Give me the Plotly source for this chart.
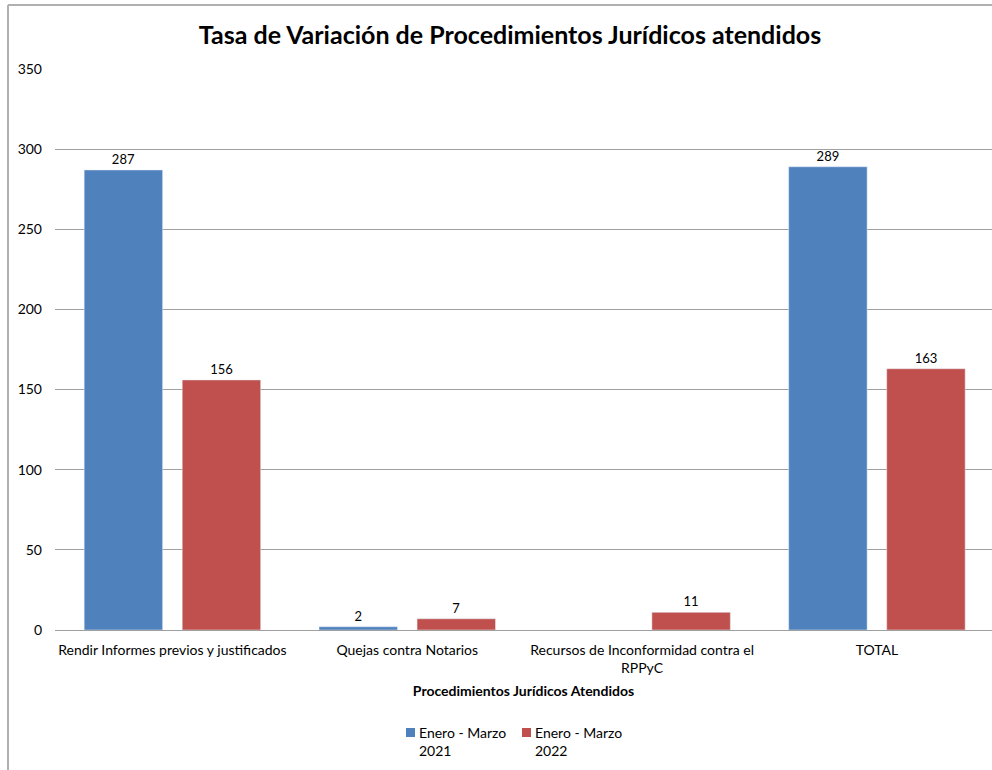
import plotly.graph_objects as go

categories = ["Rendir Informes previos y justificados", "Quejas contra Notarios",
              "Recursos de Inconformidad contra el<br>RPPyC", "TOTAL"]
serie_2021 = [287, 2, None, 289]
serie_2022 = [156, 7, 11, 163]
series_names = ["Enero - Marzo<br>2021", "Enero - Marzo<br>2022"]
series_colors = ["#4F81BD", "#C0504D"]
y_ticks = [0, 50, 100, 150, 200, 250, 300, 350]

FONT = "Lato, 'Open Sans', sans-serif"
W, H = 992, 770
L, R, T, B = 55, 0, 69, 140
pw, ph = W - L - R, H - T - B

def px_x(x):
    return (x - L) / pw

def px_y(y):
    return (H - B - y) / ph

fig = go.Figure()
for vals, name, col in zip([serie_2021, serie_2022], series_names, series_colors):
    fig.add_bar(x=categories, y=vals, name=name, marker_color=col,
                text=vals, textposition="outside", cliponaxis=False,
                textfont=dict(size=13, color="#000000"), showlegend=False)

shapes = [
    dict(type="line", xref="paper", yref="paper", x0=px_x(8), x1=px_x(1000),
         y0=px_y(5), y1=px_y(5), line=dict(color="#b0b0b0", width=2)),
    dict(type="line", xref="paper", yref="paper", x0=px_x(8), x1=px_x(8),
         y0=px_y(5), y1=px_y(780), line=dict(color="#b0b0b0", width=2)),
]
annotations = []
legend_sq_x = [406, 522]
for sx, name, col in zip(legend_sq_x, series_names, series_colors):
    shapes.append(dict(type="rect", xref="paper", yref="paper",
                       x0=px_x(sx), x1=px_x(sx + 9), y0=px_y(728), y1=px_y(737),
                       fillcolor=col, line=dict(width=0)))
    annotations.append(dict(text=name, xref="paper", yref="paper",
                            x=px_x(sx + 11), y=px_y(722), xanchor="left", yanchor="top",
                            align="left", showarrow=False, font=dict(size=14)))

fig.update_layout(
    width=W, height=H,
    margin=dict(l=L, r=R, t=T, b=B),
    paper_bgcolor="white", plot_bgcolor="white",
    font=dict(family=FONT, size=14, color="#000000"),
    barmode="group", bargap=0.165, bargroupgap=0.2,
    title=dict(text="<b>Tasa de Variación de Procedimientos Jurídicos atendidos</b>",
               x=px_x(510), xref="paper", xanchor="center",
               y=1 - 35 / H, yanchor="middle",
               font=dict(size=25, family=FONT)),
    xaxis=dict(range=[-0.5, 3.49], showgrid=False, showline=False, ticks="",
               tickfont=dict(size=14), ticklabelstandoff=10,
               title=dict(text="<b>Procedimientos Jurídicos Atendidos</b>",
                          font=dict(size=14), standoff=10)),
    yaxis=dict(range=[0, 350], tickvals=y_ticks, showgrid=True, gridcolor="#a0a0a0",
               gridwidth=1, zeroline=True, zerolinecolor="#a0a0a0", zerolinewidth=1,
               showline=False, ticks="", tickfont=dict(size=14), ticklabelstandoff=12),
    shapes=shapes,
    annotations=annotations,
)

fig.write_html("out.html", config={"displayModeBar": False},
               post_script="document.body.style.margin='0';")
